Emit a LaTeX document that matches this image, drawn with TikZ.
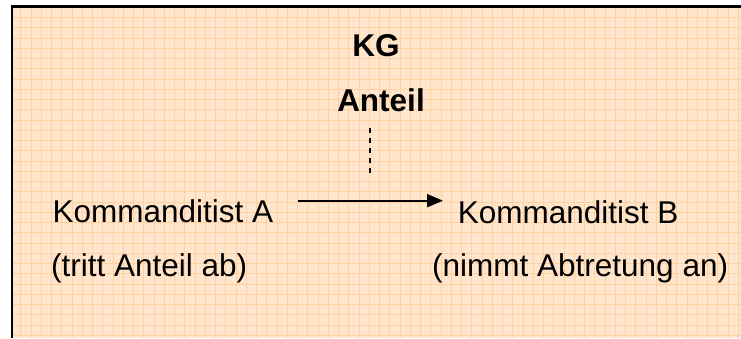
\documentclass[tikz,border=0pt]{standalone}
\usepackage{fontspec}
\setmainfont{Liberation Sans}
\usetikzlibrary{arrows.meta}
\definecolor{paper}{RGB}{255,229,204}
\definecolor{gridline}{RGB}{255,208,160}
\tikzset{
  lbl/.style={inner sep=0pt, anchor=base west, font=\fontsize{31.5}{38}\selectfont},
  title/.style={inner sep=0pt, anchor=base, font=\fontsize{31.5}{38}\selectfont\bfseries},
  arr/.style={line width=2pt, -{Triangle[length=16pt,width=13pt]}},
  dash line/.style={line width=1.3pt, dash pattern=on 5pt off 5pt},
}
\begin{document}
\begin{tikzpicture}[x=1pt,y=1pt]
\useasboundingbox (0,0) rectangle (741,338);
\fill[white] (0,0) rectangle (741,338);
\fill[paper] (11,0) rectangle (741,331);
\begin{scope}
\clip (11,0) rectangle (741,331);
\foreach \i in {0,...,71} {
  \draw[gridline, line width=0.8pt] ({20.7+10.25*\i},0) -- ({20.7+10.25*\i},331);
}
\foreach \j in {0,...,32} {
  \draw[gridline, line width=0.8pt] (11,{338-17.5-10.25*\j}) -- (741,{338-17.5-10.25*\j});
}
\end{scope}
\draw[black, line width=2.5pt] (12,0) -- (12,331.5) -- (741,331.5);

\node[title] (kg) at (376,281) {KG};
\node[title] (anteil) at (381,226) {Anteil};
\coordinate (dtop) at (370,210);
\coordinate (dbot) at (370,161);
\draw[dash line] (dtop) -- (dbot);

\node[lbl] (ka) at (52.5,115.3) {Kommanditist A};
\node[lbl] (kb) at (457.7,115) {Kommanditist B};
\node[lbl] (ta) at (51,62) {(tritt Anteil ab)};
\node[lbl] (nb) at (432,61.5) {(nimmt Abtretung an)};

\coordinate (astart) at (298,137.3);
\coordinate (aend) at (443,137.3);
\draw[arr] (astart) -- (aend);
\end{tikzpicture}
\end{document}
